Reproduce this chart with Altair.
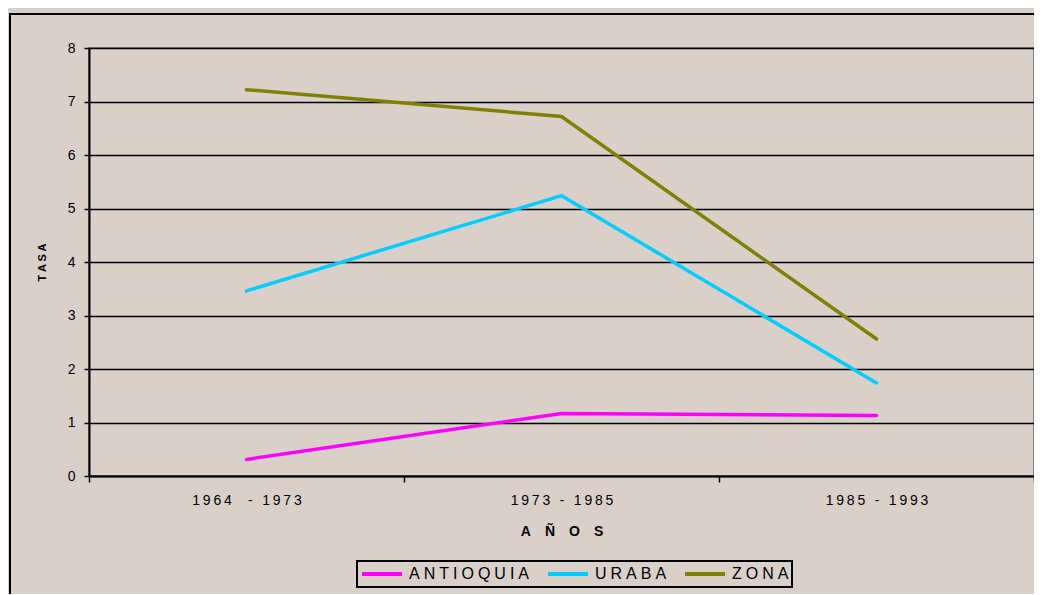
import altair as alt
import pandas as pd

periodos = ["1964  - 1973", "1973 - 1985", "1985 - 1993"]
series = ["ANTIOQUIA", "URABA", "ZONA"]
antioquia = [0.31, 1.17, 1.13]
uraba = [3.46, 5.24, 1.74]
zona = [7.22, 6.72, 2.56]
colores = ["#ff00ff", "#00ccff", "#808000"]
y_ticks = [0, 1, 2, 3, 4, 5, 6, 7, 8]

rows = []
for s, vals in zip(series, [antioquia, uraba, zona]):
    for p, v in zip(periodos, vals):
        rows.append({"periodo": p, "serie": s, "tasa": v})
df = pd.DataFrame(rows)

BG = "#d9d0ca"
FONT = "Liberation Sans"
spaced = "join(split(datum.label, ''), '\u2009')"
spaced_legend = "join(split(datum.label, ''), '\u2005')"

lines = (
    alt.Chart(df)
    .mark_line(strokeWidth=3.5, strokeCap="round")
    .encode(
        x=alt.X(
            "periodo:N",
            sort=periodos,
            bandPosition=0.5,
            scale=alt.Scale(type="band", paddingInner=0, paddingOuter=0),
            axis=alt.Axis(
                title="A\u2003Ñ\u2003O\u2003S",
                titleFont=FONT,
                titleFontSize=14,
                titleFontWeight="bold",
                titleColor="#000",
                titlePadding=17,
                labelAngle=0,
                labelFont=FONT,
                labelFontSize=14,
                labelColor="#000",
                labelPadding=11,
                labelExpr=spaced,
                tickBand="extent",
                tickSize=6,
                tickColor="#000",
                tickWidth=1.5,
                domainColor="#000",
                domainWidth=2,
                grid=False,
            ),
        ),
        y=alt.Y(
            "tasa:Q",
            scale=alt.Scale(domain=[0, 8], nice=False),
            axis=alt.Axis(
                title="T A S A",
                titleFont=FONT,
                titleFontSize=11,
                titleFontWeight="bold",
                titleColor="#000",
                titlePadding=20,
                values=y_ticks,
                labelFont=FONT,
                labelFontSize=14,
                labelColor="#000",
                labelPadding=9,
                tickSize=5,
                tickColor="#000",
                tickWidth=1.5,
                domainColor="#000",
                domainWidth=2,
                grid=True,
                gridColor="#000",
                gridWidth=1.5,
                gridOpacity=1,
            ),
        ),
        color=alt.Color(
            "serie:N",
            sort=series,
            scale=alt.Scale(domain=series, range=colores),
            legend=alt.Legend(
                title=None,
                orient="none",
                legendX=268,
                legendY=513,
                direction="horizontal",
                symbolType="stroke",
                symbolSize=1600,
                symbolStrokeWidth=4,
                clipHeight=20,
                labelFont=FONT,
                labelFontSize=16,
                labelColor="#000",
                labelOffset=5,
                labelExpr=spaced_legend,
                columnPadding=16,
                padding=3,
                strokeColor="#000",
                fillColor=BG,
            ),
        ),
    )
)

frame = (
    alt.Chart(alt.Data(values=[{}]))
    .mark_rect(fill=None, stroke="#000", strokeWidth=2)
    .encode(
        x=alt.value(-79),
        y=alt.value(-34),
        x2=alt.value(1100),
        y2=alt.value(700),
    )
)

chart = (
    alt.layer(lines, frame)
    .properties(
        width=945,
        height=428,
        autosize=alt.AutoSizeParams(type="none"),
        padding={"left": 81, "top": 40, "right": 0, "bottom": 118},
        background=BG,
    )
    .configure_view(stroke="#808080", strokeWidth=2, fill=BG)
    .configure_legend(strokeWidth=2, cornerRadius=0)
)

chart.save("out.html", embed_options={"renderer": "svg", "actions": False})
